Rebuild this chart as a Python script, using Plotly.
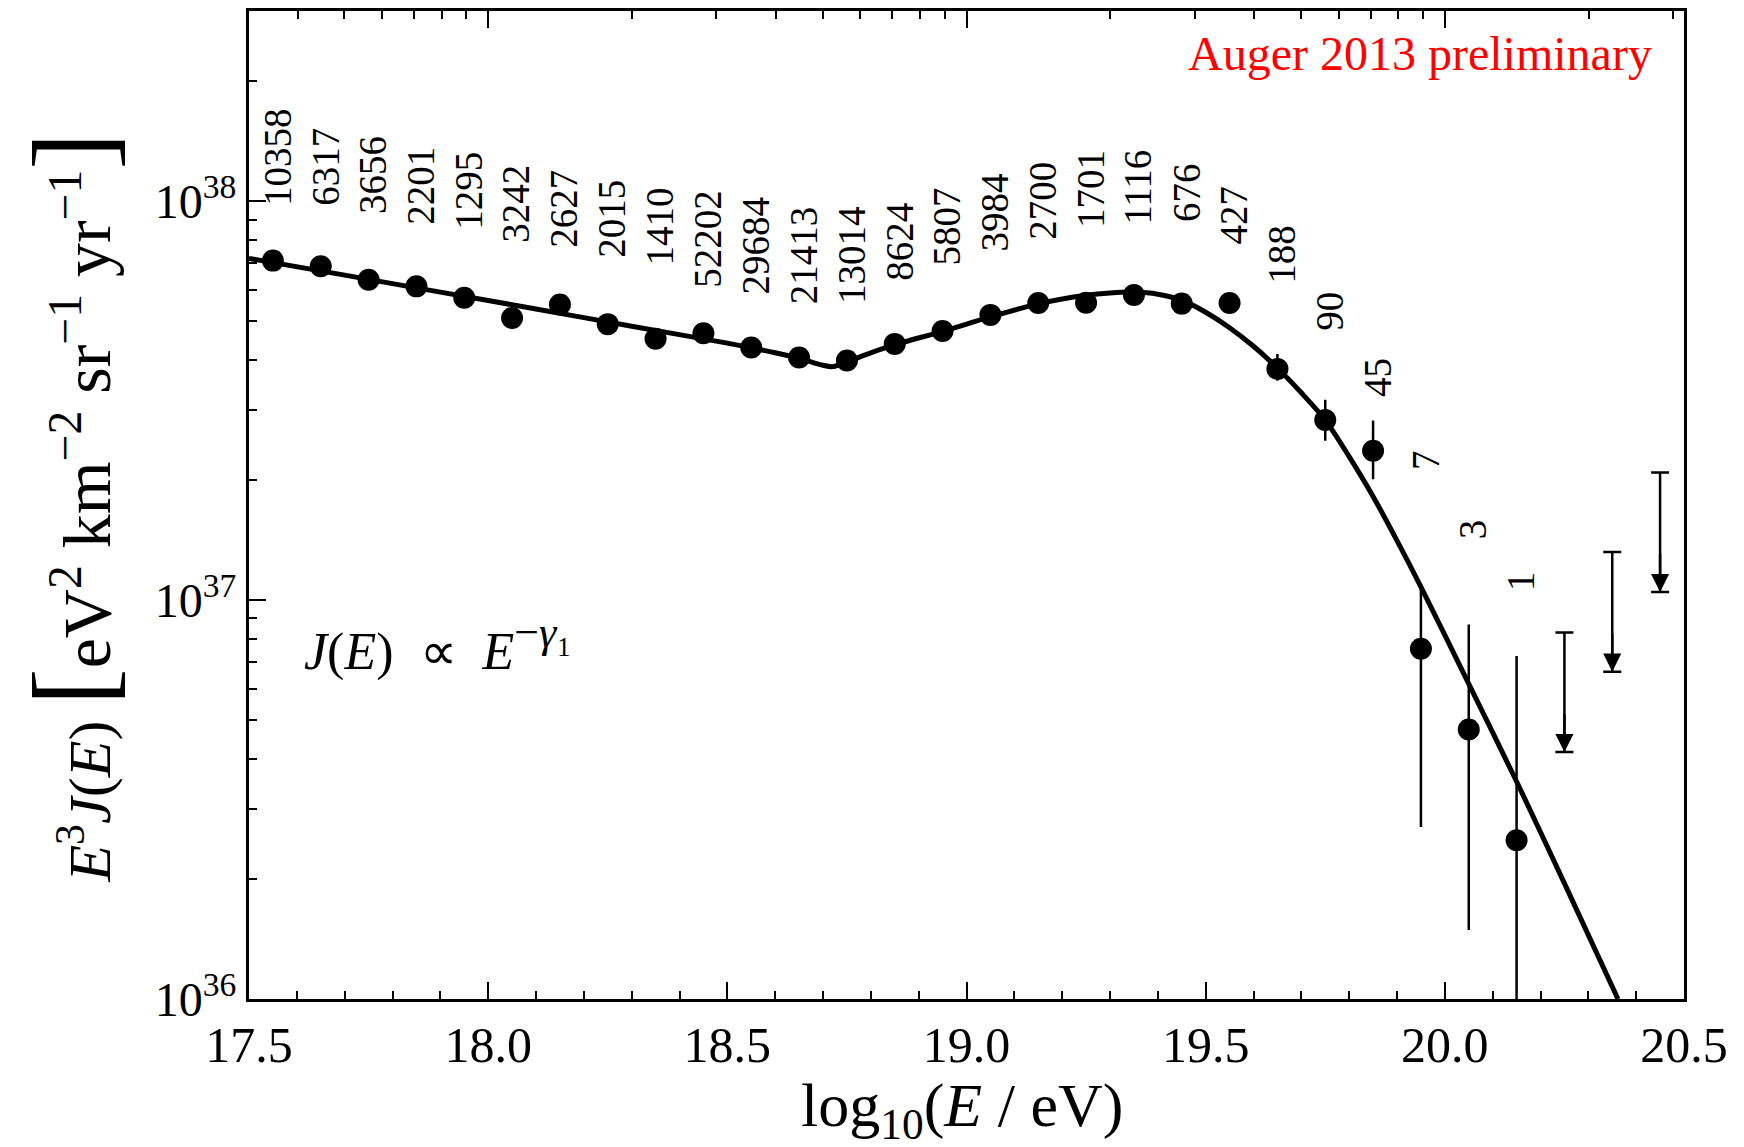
import math
import plotly.graph_objects as go

# ---------------- data ----------------
log_e = [17.55, 17.65, 17.75, 17.85, 17.95, 18.05, 18.15, 18.25, 18.35, 18.45,
         18.55, 18.65, 18.75, 18.85, 18.95, 19.05, 19.15, 19.25, 19.35, 19.45,
         19.55, 19.65, 19.75, 19.85, 19.95, 20.05, 20.15]
e3j = [7.10e37, 6.87e37, 6.36e37, 6.12e37, 5.73e37, 5.10e37, 5.51e37, 4.92e37, 4.52e37, 4.67e37,
       4.30e37, 4.06e37, 3.99e37, 4.39e37, 4.73e37, 5.19e37, 5.56e37, 5.57e37, 5.82e37, 5.54e37,
       5.56e37, 3.80e37, 2.83e37, 2.37e37, 7.55e36, 4.74e36, 2.50e36]
# error-bar bounds (None = bar hidden behind the marker)
e3j_upper = [None] * 21 + [4.14e37, 3.18e37, 2.82e37, 1.10e37, 8.69e36, 7.24e36]
e3j_lower = [None] * 21 + [3.55e37, 2.51e37, 2.01e37, 2.70e36, 1.49e36, 1.00e36]
counts = [10358, 6317, 3656, 2201, 1295, 3242, 2627, 2015, 1410, 52202,
          29684, 21413, 13014, 8624, 5807, 3984, 2700, 1701, 1116, 676,
          427, 188, 90, 45, 7, 3, 1]

# upper limits
ul_log_e = [20.25, 20.35, 20.45]
ul_e3j = [8.3e36, 1.32e37, 2.09e37]

# fitted flux model (curve)
fit_log_e = [17.5, 17.7, 17.9, 18.1, 18.3, 18.5, 18.6, 18.65, 18.7, 18.72,
             18.75, 18.8, 18.85, 18.95, 19.05, 19.15, 19.25, 19.3, 19.35, 19.4,
             19.45, 19.5, 19.55, 19.6, 19.65, 19.7, 19.75, 19.8, 19.85, 19.9,
             19.95, 20.05, 20.15, 20.25, 20.362]
fit_e3j = [7.19e37, 6.53e37, 5.92e37, 5.37e37, 4.86e37, 4.41e37, 4.17e37, 4.04e37, 3.88e37, 3.85e37,
           3.96e37, 4.17e37, 4.37e37, 4.72e37, 5.13e37, 5.53e37, 5.81e37, 5.89e37, 5.92e37, 5.85e37,
           5.65e37, 5.27e37, 4.82e37, 4.33e37, 3.82e37, 3.31e37, 2.83e37, 2.29e37, 1.82e37, 1.41e37,
           1.08e37, 6.17e36, 3.51e36, 1.95e36, 1.00e36]

# label placement (layout, log10 of y where each count label starts)
count_label_y = [37.983, 37.983, 37.962, 37.937, 37.924, 37.891, 37.878, 37.853, 37.833, 37.779,
                 37.762, 37.737, 37.737, 37.795, 37.833, 37.870, 37.899, 37.928, 37.937, 37.944,
                 37.887, 37.788, 37.670, 37.503, 37.321, 37.147, 37.016]

# ---------------- styling ----------------
FONT = "Liberation Serif"
ARROW_DEC = 0.30      # arrow length in decades

err_plus = [(u - v) if u is not None else 0.0 for u, v in zip(e3j_upper, e3j)]
err_minus = [(v - l) if l is not None else 0.0 for l, v in zip(e3j_lower, e3j)]

fig = go.Figure()

# fit curve
fig.add_trace(go.Scatter(
    x=fit_log_e, y=fit_e3j, mode="lines",
    line=dict(color="black", width=5, shape="spline", smoothing=0.8),
    hoverinfo="skip", showlegend=False))

# data points
fig.add_trace(go.Scatter(
    x=log_e, y=e3j, mode="markers",
    marker=dict(color="black", size=22),
    error_y=dict(type="data", symmetric=False, array=err_plus, arrayminus=err_minus,
                 color="black", thickness=2.5, width=0),
    showlegend=False))

# upper limits: vertical stem with a cap at the limit ...
tip = [v / 10.0 ** ARROW_DEC for v in ul_e3j]
fig.add_trace(go.Scatter(
    x=ul_log_e, y=tip, mode="markers",
    marker=dict(color="black", size=1, opacity=0),
    error_y=dict(type="data", symmetric=False,
                 array=[u - t for u, t in zip(ul_e3j, tip)],
                 arrayminus=[0.0] * len(ul_e3j),
                 color="black", thickness=2.5, width=9),
    hoverinfo="skip", showlegend=False))
# ... and a filled arrow head at the lower end
for xe, t in zip(ul_log_e, tip):
    fig.add_annotation(x=xe, y=math.log10(t), ax=xe, ay=math.log10(t) + 0.1,
                       xref="x", yref="y", axref="x", ayref="y", text="",
                       showarrow=True, arrowhead=2, arrowsize=1.45, arrowwidth=2.5,
                       arrowcolor="black")

# dummy trace to activate the top (energy) axis
fig.add_trace(go.Scatter(
    x=[10.0 ** v for v in fit_log_e], y=fit_e3j, xaxis="x2", mode="lines",
    opacity=0, hoverinfo="skip", showlegend=False))

# count labels
for xe, c, ly in zip(log_e, counts, count_label_y):
    fig.add_annotation(x=xe, y=ly, xref="x", yref="y", text=str(c), textangle=-90,
                       showarrow=False, xanchor="center", yanchor="bottom", xshift=4,
                       font=dict(family=FONT, size=39, color="black"))

fig.add_annotation(x=0.979, y=0.957, xref="paper", yref="paper",
                   text="Auger 2013 preliminary", showarrow=False,
                   xanchor="right", yanchor="middle",
                   font=dict(family=FONT, size=48, color="red"))

fig.add_annotation(x=17.611, y=36.889, xref="x", yref="y",
                   text=("<i>J</i>(<i>E</i>)  ∝  <i>E</i>"
                         "<sup><span style='font-size:44px'>−<i>γ</i>₁</span></sup>"),
                   showarrow=False, xanchor="left", yanchor="middle",
                   font=dict(family=FONT, size=52, color="black"))

# axis titles
fig.add_annotation(x=0.497, y=-0.112, xref="paper", yref="paper",
                   text="log<sub>10</sub>(<i>E</i> / eV)", showarrow=False,
                   xanchor="center", yanchor="middle",
                   font=dict(family=FONT, size=62, color="black"))
fig.add_annotation(x=-0.1233, y=0.4975, xref="paper", yref="paper", textangle=-90,
                   text=("<i>E</i><sup>3</sup><i>J</i>(<i>E</i>) "
                         "<span style='font-size:112px'>[</span>"
                         "<span style='font-size:68px'>eV<sup>2</sup> km<sup>−2</sup> "
                         "sr<sup>−1</sup> yr<sup>−1</sup></span>"
                         "<span style='font-size:112px'>]</span>"),
                   showarrow=False, xanchor="center", yanchor="middle",
                   font=dict(family=FONT, size=60, color="black"))

minor_top = [k * 10.0 ** n for n in (17, 18, 19, 20) for k in range(2, 10)
             if 17.5 <= math.log10(k * 10.0 ** n) <= 20.5]
minor_y = [k * 10.0 ** n for n in (36, 37, 38) for k in range(2, 10)
           if k * 10.0 ** n <= 3e38]

fig.update_layout(
    width=1744, height=1147,
    margin=dict(l=249, r=60, t=8, b=148),
    plot_bgcolor="white", paper_bgcolor="white",
    font=dict(family=FONT, color="black"),
    xaxis=dict(range=[17.5, 20.5], tickmode="array",
               tickvals=[17.5, 18.0, 18.5, 19.0, 19.5, 20.0, 20.5],
               ticktext=["17.5", "18.0", "18.5", "19.0", "19.5", "20.0", "20.5"],
               ticks="inside", ticklen=17, tickwidth=2, tickcolor="black",
               minor=dict(dtick=0.1, ticks="inside", ticklen=8, tickwidth=2, tickcolor="black",
                          showgrid=False),
               showline=True, linecolor="black", linewidth=3, mirror=True,
               showgrid=False, zeroline=False,
               tickfont=dict(family=FONT, size=50, color="black")),
    xaxis2=dict(type="log", range=[17.5, 20.5], overlaying="x", side="top", anchor="y",
                tickmode="array", tickvals=[1e18, 1e19, 1e20], showticklabels=False,
                ticks="inside", ticklen=17, tickwidth=2, tickcolor="black",
                minor=dict(tickmode="array", tickvals=minor_top, ticks="inside", ticklen=8,
                           tickwidth=2, tickcolor="black", showgrid=False),
                showline=False, showgrid=False, zeroline=False),
    yaxis=dict(type="log", range=[36, 38.4771], tickmode="array",
               tickvals=[1e36, 1e37, 1e38],
               ticktext=["10<sup>36</sup>", "10<sup>37</sup>", "10<sup>38</sup>"],
               ticks="inside", ticklen=17, tickwidth=2, tickcolor="black",
               minor=dict(tickmode="array", tickvals=minor_y, ticks="inside", ticklen=8,
                          tickwidth=2, tickcolor="black", showgrid=False),
               showline=True, linecolor="black", linewidth=3, mirror=True,
               showgrid=False, zeroline=False,
               tickfont=dict(family=FONT, size=48, color="black")),
)

fig.write_html("out.html")
